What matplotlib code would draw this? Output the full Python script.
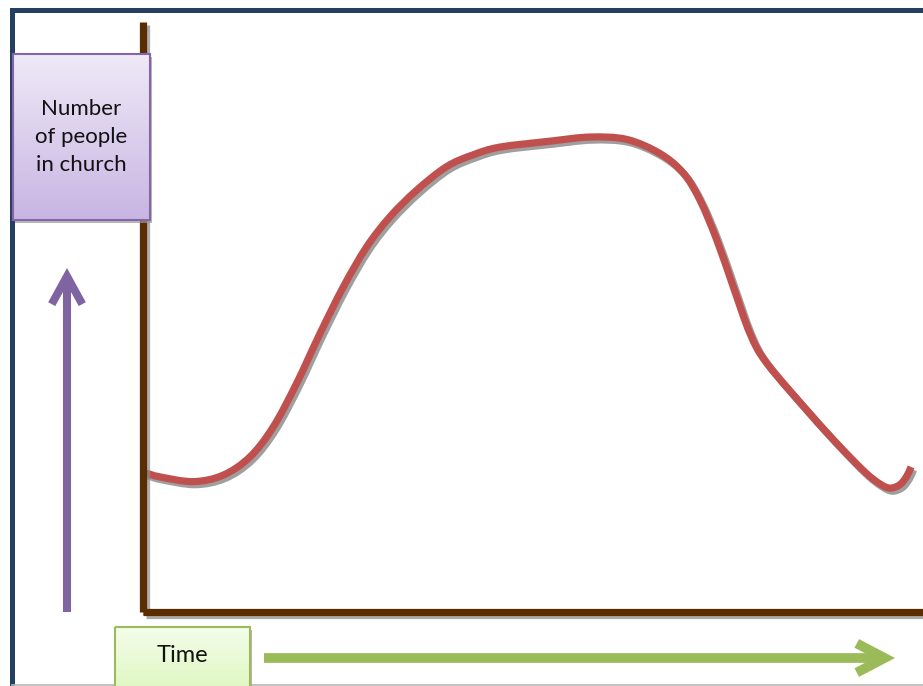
import matplotlib
matplotlib.use("Agg")
import matplotlib.pyplot as plt
import matplotlib.patheffects as pe
import numpy as np
from matplotlib.patches import Rectangle, PathPatch
from matplotlib.path import Path

# ---- data (time in % of span, people in % of axis height) ----
time = [0.26, 2.18, 6.45, 10.29, 13.72, 16.71, 19.71, 22.69, 25.68, 28.68,
        31.67, 35.09, 38.94, 42.35, 45.77, 52.18, 57.31, 62.01, 66.28,
        69.27, 71.41, 73.55, 75.68, 77.82, 79.96, 85.51, 89.36, 92.56, 94.49,
        95.77, 97.05, 97.95, 98.46]
people = [23.6, 22.9, 22.1, 23.2, 26.3, 31.4, 38.8, 47.2, 55.1, 61.9,
          67.0, 71.5, 75.5, 77.5, 78.8, 79.8, 80.5, 80.1, 77.7,
          74.4, 69.8, 63.1, 55.1, 47.2, 42.2, 33.6, 28.0, 23.7, 21.7,
          21.0, 21.6, 23.1, 24.6]
y_label = "Number\nof people\nin church"
x_label = "Time"

W, H = 923, 686
fig = plt.figure(figsize=(W / 100, H / 100), dpi=100)
fig.patch.set_facecolor("white")

font = ["Lato", "DejaVu Sans"]

# ---- main data axes (brown axes) ----
ax_l, ax_b, ax_t = 143, 612, 22
ax = fig.add_axes([ax_l / W, (H - ax_b) / H, (W - ax_l) / W, (ax_b - ax_t) / H])
ax.set_xlim(0, 100)
ax.set_ylim(0, 100)
ax.set_facecolor("none")
ax.set_xticks([])
ax.set_yticks([])
for s in ["top", "right"]:
    ax.spines[s].set_visible(False)
brown = "#5A2D00"
shadow = [pe.SimpleLineShadow(offset=(2.2, -2.2), shadow_color="#888888", alpha=0.7), pe.Normal()]
for s in ["left", "bottom"]:
    ax.spines[s].set_color(brown)
    ax.spines[s].set_linewidth(5.2)
    ax.spines[s].set_capstyle("butt")
    ax.spines[s].set_path_effects(shadow)

# smooth curve through the data points (Catmull-Rom -> cubic Bezier)
P = np.column_stack([time, people])
Pext = np.vstack([P[0] - (P[1] - P[0]), P, P[-1] + (P[-1] - P[-2])])
verts = [P[0]]
codes = [Path.MOVETO]
for i in range(1, len(Pext) - 2):
    p0, p1, p2, p3 = Pext[i - 1], Pext[i], Pext[i + 1], Pext[i + 2]
    verts += [p1 + (p2 - p0) / 6, p2 - (p3 - p1) / 6, p2]
    codes += [Path.CURVE4] * 3
curve = PathPatch(Path(verts, codes), fill=False, edgecolor="#C0504D", lw=5.2,
                  capstyle="butt", joinstyle="round", clip_on=False,
                  path_effects=[pe.SimpleLineShadow(offset=(1.8, -2.2), shadow_color="#7f7f7f", alpha=0.75),
                                pe.Normal()])
ax.add_patch(curve)

# ---- overlay axes in pixel coords for decorations ----
ov = fig.add_axes([0, 0, 1, 1])
ov.set_xlim(0, W)
ov.set_ylim(H, 0)
ov.axis("off")
ov.set_facecolor("none")

# frame
ov.plot([12, 12, W + 5], [H + 5, 9.5, 9.5], color="#243F60", lw=3.6,
        solid_joinstyle="miter", clip_on=False)
ov.plot([12, W], [685, 685], color="#B8B8B8", lw=1.2)


def grad_box(x0, y0, x1, y1, c_top, c_bot, edge, z=5):
    c1 = np.array(matplotlib.colors.to_rgb(c_top))
    c2 = np.array(matplotlib.colors.to_rgb(c_bot))
    n = 100
    g = np.linspace(0, 1, n)[:, None]
    img = (c1[None, :] * (1 - g) + c2[None, :] * g)[:, None, :]
    ov.add_patch(Rectangle((x0 + 2, y0 + 3), x1 - x0, y1 - y0, color="#999999",
                           alpha=0.7, zorder=z - 1, lw=0))
    ov.imshow(img, extent=(x0, x1, y1, y0), aspect="auto", zorder=z,
              interpolation="bilinear")
    ov.add_patch(Rectangle((x0, y0), x1 - x0, y1 - y0, fill=False,
                           edgecolor=edge, lw=1.5, zorder=z + 1))


grad_box(13, 54, 150, 220, "#EFE9F7", "#C8B5E3", "#8466A8")
ov.text(81.5, 137, y_label, ha="center", va="center", fontsize=16,
        family=font, linespacing=1.5, zorder=10, color="#111111")

grad_box(115, 627, 250, 700, "#F4FDEA", "#DCF6BB", "#9BBB59")
ov.text(182, 656, x_label, ha="center", va="center", fontsize=17,
        family=font, zorder=10, color="#111111")

# arrows
arr_sh = [pe.SimpleLineShadow(offset=(2, -2.5), shadow_color="#888888", alpha=0.7), pe.Normal()]
ov.annotate("", xy=(67, 268), xytext=(67, 612),
            arrowprops=dict(arrowstyle="->,head_length=2.0,head_width=1.1",
                            color="#8064A2", lw=5.8, shrinkA=0, shrinkB=0,
                            capstyle="butt", joinstyle="miter"),
            zorder=6, path_effects=arr_sh)
ov.annotate("", xy=(895, 658), xytext=(264, 658),
            arrowprops=dict(arrowstyle="->,head_length=2.0,head_width=1.05",
                            color="#9BBB59", lw=7, shrinkA=0, shrinkB=0,
                            capstyle="butt", joinstyle="miter"),
            zorder=6, path_effects=arr_sh)

fig.savefig("out.png", dpi=100)
